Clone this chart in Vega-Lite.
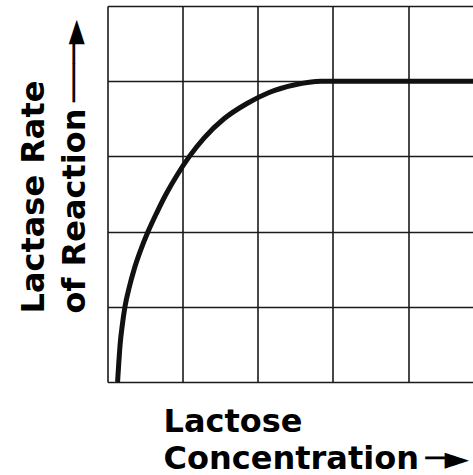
{
  "$schema": "https://vega.github.io/schema/vega-lite/v6.json",
  "width": 366,
  "height": 376,
  "autosize": {"type": "none"},
  "padding": {"left": 107.5, "top": 6, "right": 0, "bottom": 93},
  "background": "white",
  "config": {"view": {"stroke": null}},
  "data": {
    "values": [
      {"c": 0.134, "r": 0},
      {"c": 0.15, "r": 0.25},
      {"c": 0.168, "r": 0.5},
      {"c": 0.196, "r": 0.75},
      {"c": 0.232, "r": 1.0},
      {"c": 0.287, "r": 1.25},
      {"c": 0.355, "r": 1.5},
      {"c": 0.44, "r": 1.75},
      {"c": 0.54, "r": 2.0},
      {"c": 0.655, "r": 2.25},
      {"c": 0.78, "r": 2.5},
      {"c": 0.925, "r": 2.75},
      {"c": 1.09, "r": 3.0},
      {"c": 1.29, "r": 3.25},
      {"c": 1.55, "r": 3.5},
      {"c": 1.85, "r": 3.7},
      {"c": 2.15, "r": 3.85},
      {"c": 2.48, "r": 3.95},
      {"c": 2.85, "r": 4.0},
      {"c": 4.87, "r": 4.0}
    ]
  },
  "mark": {"type": "line", "interpolate": "monotone", "color": "#111111", "strokeWidth": 5, "strokeCap": "butt"},
  "encoding": {
    "x": {
      "field": "c",
      "type": "quantitative",
      "scale": {"domain": [0, 4.87], "nice": false, "zero": false},
      "axis": {
        "values": [0, 1, 2, 3, 4],
        "grid": true,
        "gridColor": "#1a1a1a",
        "gridWidth": 1.6,
        "labels": false,
        "ticks": false,
        "domain": false,
        "title": ["\u2003\u2002\u00a0Lactose", "Concentration\u2009─►"],
        "titleFont": "DejaVu Sans",
        "titleFontSize": 32,
        "titleFontWeight": "bold",
        "titleColor": "#000000",
        "titleAlign": "left",
        "titleBaseline": "alphabetic",
        "titleX": 55.5,
        "titleY": 49,
        "titleLineHeight": 37
      }
    },
    "y": {
      "field": "r",
      "type": "quantitative",
      "scale": {"domain": [0, 5], "nice": false, "zero": false},
      "axis": {
        "values": [0, 1, 2, 3, 4, 5],
        "grid": true,
        "gridColor": "#1a1a1a",
        "gridWidth": 1.6,
        "labels": false,
        "ticks": false,
        "domain": false,
        "title": ["Lactase Rate", "\u2002\u200aof Reaction\u2009───►"],
        "titleFont": "DejaVu Sans",
        "titleFontSize": 32,
        "titleFontWeight": "bold",
        "titleColor": "#000000",
        "titleAngle": 270,
        "titleAlign": "left",
        "titleBaseline": "alphabetic",
        "titleX": -64.5,
        "titleY": 307,
        "titleLineHeight": 41
      }
    }
  }
}
